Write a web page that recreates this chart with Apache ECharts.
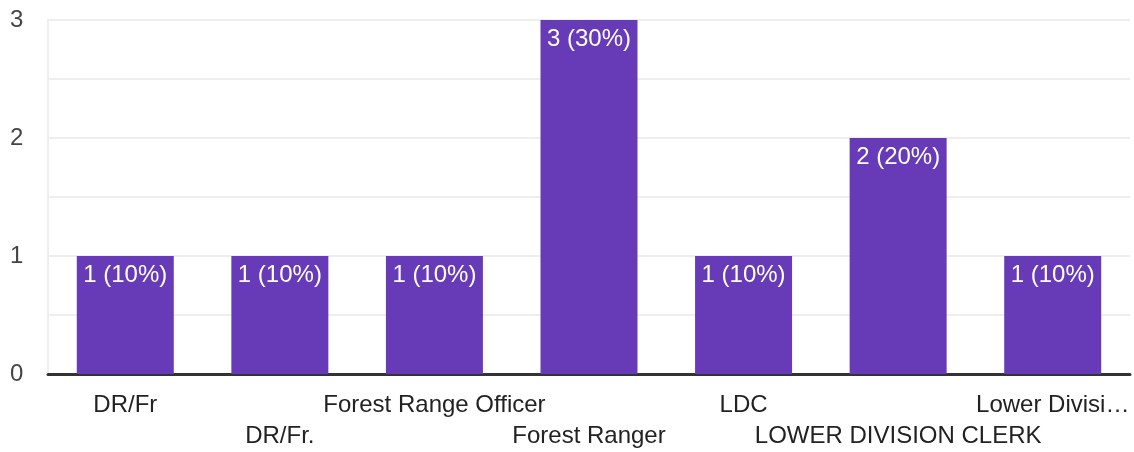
<!DOCTYPE html>
<html><head><meta charset="utf-8">
<script src="https://cdn.jsdelivr.net/npm/echarts@6/dist/echarts.min.js"></script>
<style>html,body{margin:0;padding:0;background:#fff;}#c{width:1134px;height:452px;}</style>
</head><body><div id="c"></div>
<script>
const categories = ['DR/Fr', 'DR/Fr.', 'Forest Range Officer', 'Forest Ranger', 'LDC', 'LOWER DIVISION CLERK', 'Lower Divisi\u2026'];
const counts = [1, 1, 1, 3, 1, 2, 1];
const yTicks = [0, 1, 2, 3];
const total = counts.reduce((a, b) => a + b, 0);
const chart = echarts.init(document.getElementById('c'), null, {renderer: 'canvas'});
chart.setOption({
  animation: false,
  grid: {left: 48, right: 4, top: 20, bottom: 75},
  xAxis: {
    type: 'category', data: categories,
    axisLine: {lineStyle: {color: '#333', width: 3}},
    axisTick: {show: false},
    axisLabel: {
      interval: 0, margin: 16, fontSize: 24, color: '#222', fontFamily: 'Liberation Sans, Arial',
      lineHeight: 31,
      formatter: (v, i) => (i % 2 === 1 ? '\n' + v : v)
    }
  },
  yAxis: {
    type: 'value', min: 0, max: 3, interval: 0.5,
    axisLine: {show: true, lineStyle: {color: '#eeeeee', width: 2}},
    axisTick: {show: false},
    splitLine: {lineStyle: {color: '#eeeeee', width: 2}},
    axisLabel: {
      fontSize: 24, color: '#444', fontFamily: 'Liberation Sans, Arial', margin: 38, align: 'left',
      formatter: v => (yTicks.includes(v) ? String(v) : '')
    }
  },
  series: [{
    type: 'bar', data: counts, barWidth: 97,
    itemStyle: {color: '#673ab7'},
    label: {
      show: true, position: 'insideTop', distance: 7, color: '#fff', fontSize: 24,
      fontFamily: 'Liberation Sans, Arial',
      formatter: p => p.value + ' (' + Math.round(p.value / total * 100) + '%)'
    }
  }]
});
</script></body></html>
